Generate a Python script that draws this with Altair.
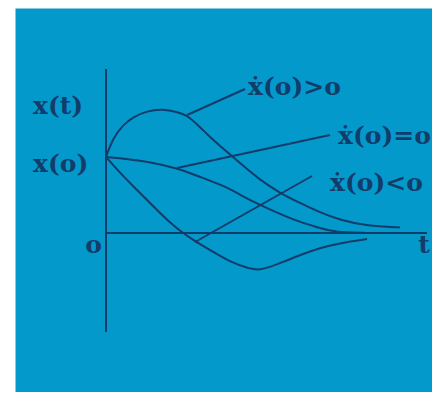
import altair as alt
import pandas as pd

# Curves: time t (horizontal) and response x(t) (vertical)
t_pos = [0.0, 0.175, 0.425, 0.675, 1.025, 1.425, 1.775, 2.025, 2.35, 2.675, 3.025, 3.35, 3.85, 4.35, 4.85, 5.35, 5.85, 6.525, 7.35]
x_pos = [1.013, 1.267, 1.44, 1.547, 1.627, 1.653, 1.613, 1.573, 1.413, 1.24, 1.08, 0.933, 0.707, 0.533, 0.4, 0.273, 0.173, 0.093, 0.075]

t_zero = [0.0, 0.35, 0.675, 1.1, 1.775, 2.35, 3.025, 3.35, 3.85, 4.525, 4.85, 5.35, 5.675, 6.525]
x_zero = [1.013, 1.0, 0.973, 0.947, 0.867, 0.747, 0.613, 0.507, 0.373, 0.213, 0.147, 0.067, 0.013, 0.0]

t_neg = [0.0, 0.35, 0.85, 1.35, 1.6, 1.85, 2.175, 2.6, 3.1, 3.6, 3.85, 4.1, 4.425, 4.85, 5.35, 5.85, 6.525]
x_neg = [1.013, 0.8, 0.533, 0.267, 0.14, 0.027, -0.093, -0.227, -0.387, -0.48, -0.493, -0.453, -0.387, -0.293, -0.2, -0.133, -0.08]

# Leader lines from the curves to their labels
lead_t1 = [2.025, 1.775, 2.225]
lead_x1 = [1.573, 0.867, -0.12]
lead_t2 = [3.475, 5.6, 5.15]
lead_x2 = [1.92, 1.307, 0.76]

# Axes (vertical at t=0, horizontal at x=0)
axis_t1 = [0.0, 0.0]
axis_x1 = [2.187, 0.0]
axis_t2 = [0.0, 8.025]
axis_x2 = [-1.32, 0.0]

# Labels
left_labels = ["x(t)", "x(o)", "\u1e8b(o)>o", "\u1e8b(o)=o", "\u1e8b(o)<o"]
left_t = [-1.825, -1.825, 3.55, 5.8, 5.6]
left_x = [1.693, 0.92, 1.947, 1.293, 0.667]
center_labels = ["o", "t"]
center_t = [-0.3125, 7.95]
center_x = [-0.16, -0.16]

NAVY = "#123c6a"
BLUE = "#0399cb"

rows = []
for name, ts, xs in [("pos", t_pos, x_pos), ("zero", t_zero, x_zero), ("neg", t_neg, x_neg)]:
    for t, x in zip(ts, xs):
        rows.append({"series": name, "t": t, "x": x})
curves = pd.DataFrame(rows)

segs = pd.DataFrame({
    "t": lead_t1 + axis_t1,
    "x": lead_x1 + axis_x1,
    "t2": lead_t2 + axis_t2,
    "x2": lead_x2 + axis_x2,
})

lab_l = pd.DataFrame({"label": left_labels, "t": left_t, "x": left_x})
lab_c = pd.DataFrame({"label": center_labels, "t": center_t, "x": center_x})

xs = alt.Scale(domain=[-2.275, 8.15], nice=False, zero=False)
ys = alt.Scale(domain=[-2.12, 3.0], nice=False, zero=False)
X = alt.X("t:Q", scale=xs, axis=None)
Y = alt.Y("x:Q", scale=ys, axis=None)

lines = alt.Chart(curves).mark_line(
    interpolate="basis", color=NAVY, strokeWidth=2
).encode(x=X, y=Y, detail="series:N")

rules = alt.Chart(segs).mark_rule(color=NAVY, strokeWidth=2).encode(
    x=X, y=Y, x2="t2:Q", y2="x2:Q"
)

text_font = dict(font="DejaVu Serif", fontWeight="bold", fontSize=25, color=NAVY, baseline="middle")
tl = alt.Chart(lab_l).mark_text(align="left", **text_font).encode(x=X, y=Y, text="label:N")
tc = alt.Chart(lab_c).mark_text(align="center", **text_font).encode(x=X, y=Y, text="label:N")

chart = alt.layer(lines, rules, tl, tc).properties(
    width=417,
    height=384,
    padding={"left": 7, "top": 0, "right": 0, "bottom": 0},
    autosize=alt.AutoSizeParams(type="none"),
    background="white",
).configure_view(fill=BLUE, strokeOpacity=0)

chart.save("out.html", embed_options={"renderer": "svg", "actions": False})
